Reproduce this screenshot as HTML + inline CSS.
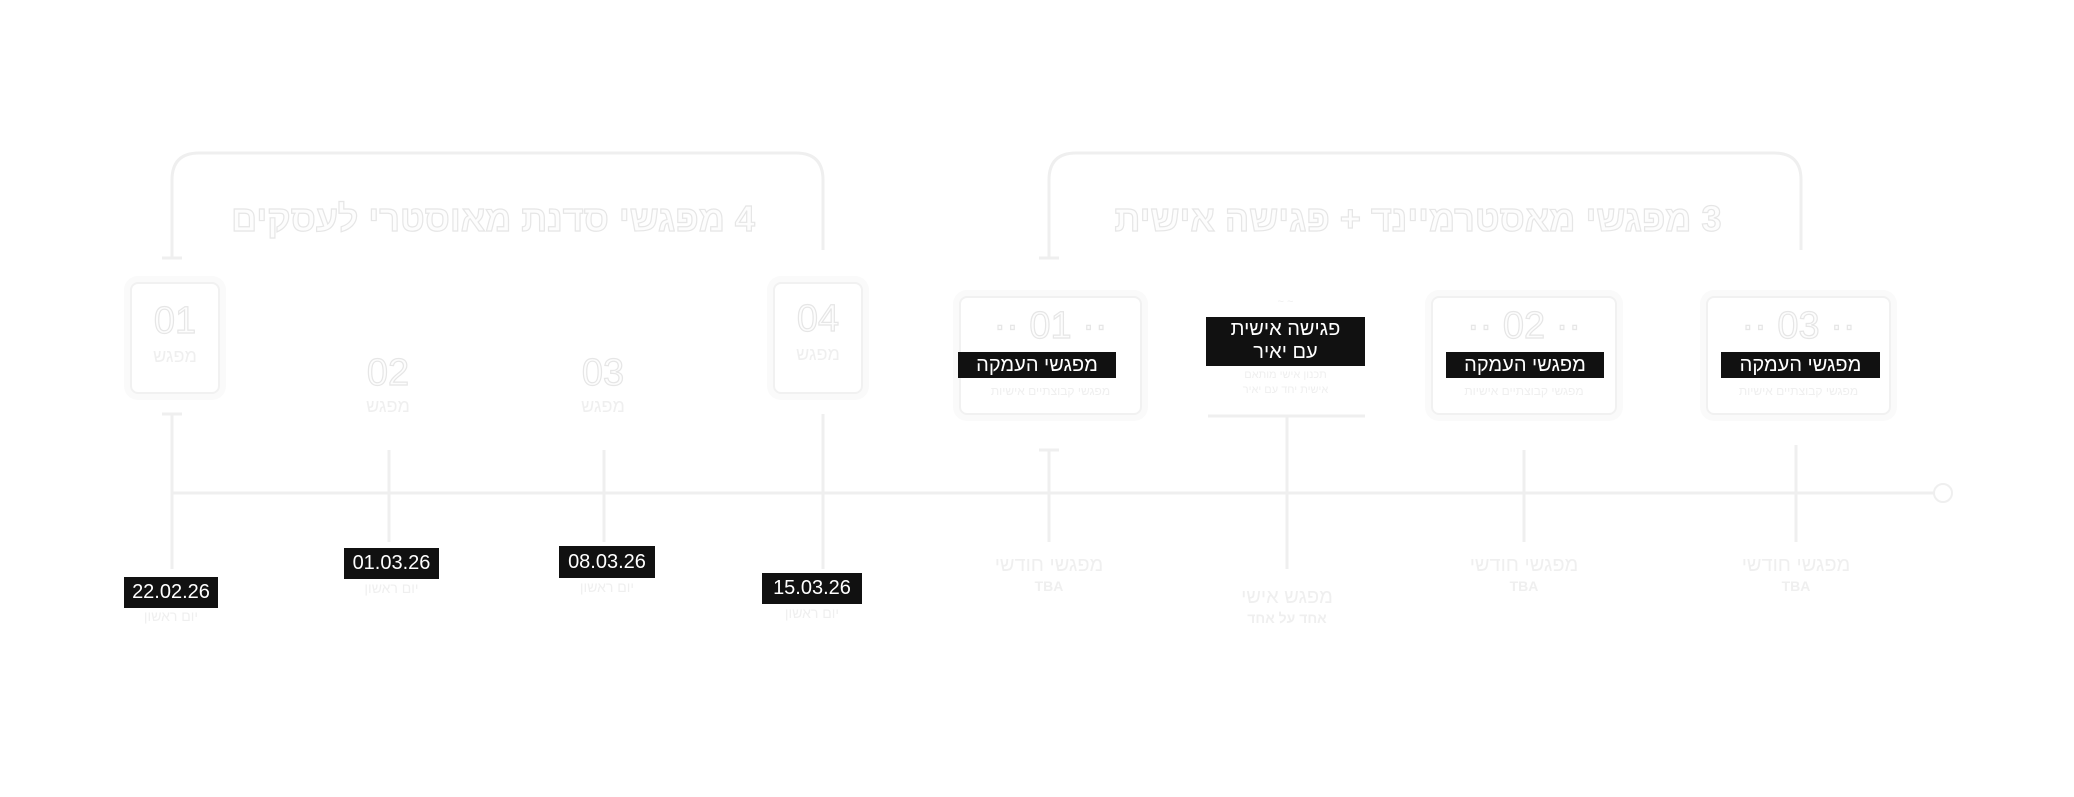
<!DOCTYPE html>
<html><head><meta charset="utf-8"><style>
body{margin:0;width:2074px;height:797px;background:#fff;position:relative;overflow:hidden;font-family:"Liberation Sans","Noto Sans CJK SC",sans-serif}
.a{position:absolute}
.bk{position:absolute;background:#111;color:#fff;text-align:center;white-space:nowrap}
.g{color:#efefef}
.o{color:#fdfdfd;-webkit-text-stroke:1.2px #e6e6e6}
.box{position:absolute;border:2px solid #f1f1f1;border-radius:8px;box-shadow:0 0 0 6px #fafafa}
.c{text-align:center;white-space:nowrap;direction:rtl}
</style></head><body>
<svg class="a" style="left:0;top:0" width="2074" height="797">
<g stroke="#efefef" stroke-width="3" fill="none">
<path d="M172 258 V180 Q172 153 199 153 H796 Q823 153 823 180 V250"/>
<path d="M162 258 H182"/>
<path d="M1049 258 V180 Q1049 153 1076 153 H1774 Q1801 153 1801 180 V250"/>
<path d="M1039 258 H1059"/>
<path d="M172 493 H1935"/>
<path d="M172 414 V569 M162 414 H182"/>
<path d="M389 450 V542 M604 450 V542 M823 414 V569"/>
<path d="M1049 450 V542 M1039 450 H1059 M1287 417 V569 M1524 450 V542 M1796 445 V542"/>
<path d="M1208 416 H1365"/>
</g>
<circle cx="1943" cy="493" r="9" fill="#fff" stroke="#efefef" stroke-width="2"/>
</svg>
<div class="a c o" style="left:228px;top:198px;width:530px;font-size:36px;font-weight:bold">4 מפגשי סדנת מאוסטרי לעסקים</div>
<div class="a c o" style="left:1101px;top:198px;width:634px;font-size:36px;font-weight:bold">3 מפגשי מאסטרמיינד + פגישה אישית</div>

<div class="box" style="left:130px;top:282px;width:86px;height:108px"></div>
<div class="a c o" style="left:130px;top:300px;width:90px;font-size:38px">01</div>
<div class="a c g" style="left:130px;top:346px;width:90px;font-size:18px">מפגש</div>
<div class="box" style="left:773px;top:282px;width:86px;height:108px"></div>
<div class="a c o" style="left:773px;top:298px;width:90px;font-size:38px">04</div>
<div class="a c g" style="left:773px;top:344px;width:90px;font-size:18px">מפגש</div>
<div class="a c o" style="left:343px;top:352px;width:90px;font-size:38px">02</div>
<div class="a c g" style="left:343px;top:396px;width:90px;font-size:18px">מפגש</div>
<div class="a c o" style="left:558px;top:352px;width:90px;font-size:38px">03</div>
<div class="a c g" style="left:558px;top:396px;width:90px;font-size:18px">מפגש</div>

<div class="bk" style="left:124px;top:577px;width:94px;height:31px;line-height:31px;font-size:20px">22.02.26</div>
<div class="a c g" style="left:124px;top:608px;width:94px;font-size:14px">יום ראשון</div>
<div class="bk" style="left:344px;top:548px;width:95px;height:31px;line-height:31px;font-size:20px">01.03.26</div>
<div class="a c g" style="left:344px;top:580px;width:95px;font-size:14px">יום ראשון</div>
<div class="bk" style="left:559px;top:546px;width:96px;height:32px;line-height:32px;font-size:20px">08.03.26</div>
<div class="a c g" style="left:559px;top:579px;width:96px;font-size:14px">יום ראשון</div>
<div class="bk" style="left:762px;top:573px;width:100px;height:31px;line-height:31px;font-size:20px">15.03.26</div>
<div class="a c g" style="left:762px;top:605px;width:100px;font-size:14px">יום ראשון</div>

<div class="box" style="left:959px;top:296px;width:179px;height:115px"></div>
<div class="a c o" style="left:959px;top:305px;width:183px;font-size:38px">·· 01 ··</div>
<div class="bk" style="left:958px;top:352px;width:158px;height:26px;line-height:26px;font-size:20px;direction:rtl">מפגשי העמקה</div>
<div class="a c g" style="left:959px;top:384px;width:183px;font-size:12px">מפגשי קבוצתיים אישיות</div>

<div class="a c g" style="left:1206px;top:296px;width:159px;font-size:11px">~ ~</div>
<div class="bk" style="left:1206px;top:317px;width:159px;height:49px;font-size:20px;line-height:23px;padding-top:1px;box-sizing:border-box;direction:rtl">פגישה אישית<br>עם יאיר</div>
<div class="a c g" style="left:1206px;top:368px;width:159px;font-size:11px;line-height:15px">תכנון אישי מותאם<br>אישית יחד עם יאיר</div>

<div class="box" style="left:1431px;top:296px;width:182px;height:115px"></div>
<div class="a c o" style="left:1431px;top:305px;width:186px;font-size:38px">·· 02 ··</div>
<div class="bk" style="left:1446px;top:352px;width:158px;height:26px;line-height:26px;font-size:20px;direction:rtl">מפגשי העמקה</div>
<div class="a c g" style="left:1431px;top:384px;width:186px;font-size:12px">מפגשי קבוצתיים אישיות</div>

<div class="box" style="left:1706px;top:296px;width:181px;height:115px"></div>
<div class="a c o" style="left:1706px;top:305px;width:185px;font-size:38px">·· 03 ··</div>
<div class="bk" style="left:1721px;top:352px;width:159px;height:26px;line-height:26px;font-size:20px;direction:rtl">מפגשי העמקה</div>
<div class="a c g" style="left:1706px;top:384px;width:185px;font-size:12px">מפגשי קבוצתיים אישיות</div>

<div class="a c g" style="left:979px;top:554px;width:140px;font-size:20px">מפגשי חודשי</div>
<div class="a c g" style="left:979px;top:578px;width:140px;font-size:14px;font-weight:bold">TBA</div>
<div class="a c g" style="left:1217px;top:586px;width:140px;font-size:20px">מפגש אישי</div>
<div class="a c g" style="left:1217px;top:610px;width:140px;font-size:14px;font-weight:bold">אחד על אחד</div>
<div class="a c g" style="left:1454px;top:554px;width:140px;font-size:20px">מפגשי חודשי</div>
<div class="a c g" style="left:1454px;top:578px;width:140px;font-size:14px;font-weight:bold">TBA</div>
<div class="a c g" style="left:1726px;top:554px;width:140px;font-size:20px">מפגשי חודשי</div>
<div class="a c g" style="left:1726px;top:578px;width:140px;font-size:14px;font-weight:bold">TBA</div>
</body></html>
